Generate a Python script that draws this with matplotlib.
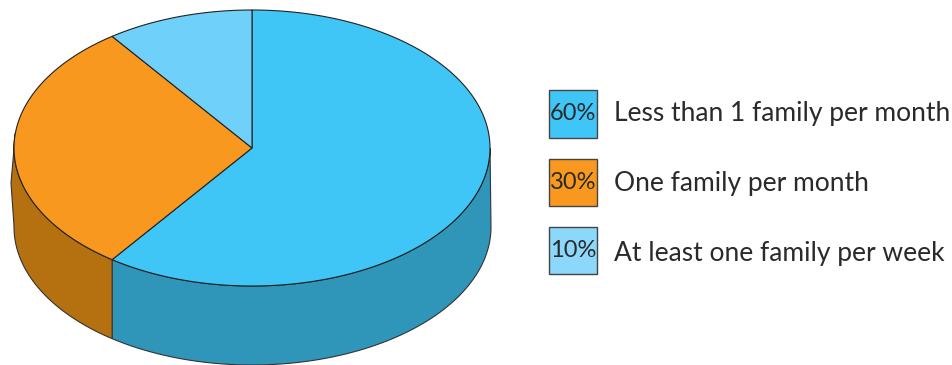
import numpy as np
import matplotlib
matplotlib.use("Agg")
import matplotlib.pyplot as plt
from matplotlib.patches import Polygon, Rectangle

# Data
labels = ["Less than 1 family per month", "One family per month",
          "At least one family per week"]
shares = [60, 30, 10]
pct_labels = ["60%", "30%", "10%"]
top_colors = ["#40C6F6", "#F9981F", "#6FD0F9"]
box_colors = ["#40C6F6", "#F9981F", "#8BD8FA"]
side_colors = ["#2F96BA", "#B57110", "#2F96BA"]

W, H = 953, 365
CX, CY, RX, RY = 252, 148, 238, 138
BOTTOM_Y = 227
WALL_BULGE = (11, 183)  # left wall bows out past the top face


def ell(deg, cy=CY):
    # clockwise from 12 o'clock, pixel coordinates
    t = np.radians(np.asarray(deg, dtype=float))
    s = np.sin(t)
    # right half of the lower rim is a pixel wider
    rx = RX + (cy != CY) * (s > 0)
    return CX + rx * s, cy - RY * np.cos(t)


def main():
    plt.rcParams["font.family"] = ["Lato", "DejaVu Sans"]
    fig = plt.figure(figsize=(W / 100, H / 100), dpi=100)
    ax = fig.add_axes([0, 0, 1, 1])
    ax.set_xlim(0, W)
    ax.set_ylim(H, 0)
    ax.axis("off")

    start = 0
    for share, top, side in zip(shares, top_colors, side_colors):
        end = start + share * 3.6
        # Side wall: only the front half of the pie shows
        a, b = max(start, 90), min(end, 276)
        if b > a:
            ang = np.linspace(a, b, 120)
            x, y = ell(ang)
            bx, by = ell(ang[ang < 270.5], BOTTOM_Y)
            pts = np.c_[x, y]
            if b > 270:
                pts = np.r_[pts, [WALL_BULGE]]
            pts = np.r_[pts, np.c_[bx[::-1], by[::-1]]]
            ax.add_patch(Polygon(pts, fc=side, ec="#333333", lw=0.8, zorder=1))
        # Top face
        x, y = ell(np.linspace(start, end, 200))
        pts = np.r_[[[CX, CY]], np.c_[x, y]]
        ax.add_patch(Polygon(pts, fc=top, ec="#222222", lw=0.8, zorder=2))
        start = end

    box_y = [90.3, 158.7, 227]
    base_y = [120.7, 190.7, 261]
    for i, (pct, label, color) in enumerate(zip(pct_labels, labels, box_colors)):
        ax.add_patch(Rectangle((549.3, box_y[i]), 47.4, 47.4, fc=color,
                               ec="#444444", lw=1.0))
        ax.text(573, box_y[i] + 23.5, pct, ha="center", va="center",
                fontsize=17, color="#2A2A2A")
        ax.text(614, base_y[i], label, ha="left", va="baseline", fontsize=19,
                color="#2A2A2A")

    fig.savefig("out.png", dpi=100)


if __name__ == "__main__":
    main()
